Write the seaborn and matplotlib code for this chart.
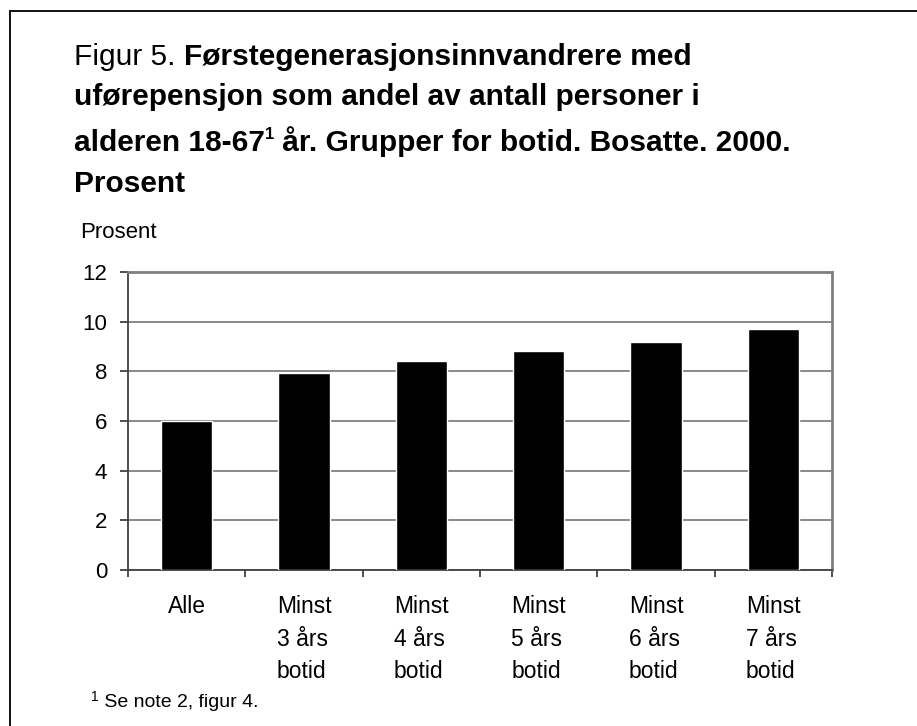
import matplotlib
matplotlib.use("Agg")
import matplotlib.pyplot as plt
import seaborn as sns
import pandas as pd
from matplotlib.lines import Line2D

# data
kategorier = ["Alle", "Minst\n3 års\nbotid", "Minst\n4 års\nbotid", "Minst\n5 års\nbotid",
              "Minst\n6 års\nbotid", "Minst\n7 års\nbotid"]
prosent = [6.0, 7.95, 8.4, 8.8, 9.2, 9.7]
y_ticks = [0, 2, 4, 6, 8, 10, 12]

sns.set_style("white")
plt.rcParams["font.family"] = ["Liberation Sans", "DejaVu Sans"]
plt.rcParams["text.color"] = "black"
plt.rcParams["xtick.color"] = "black"
plt.rcParams["ytick.color"] = "black"

W, H = 917, 726
df = pd.DataFrame({"kategori": kategorier, "prosent": prosent})

fig = plt.figure(figsize=(W / 100, H / 100), dpi=100)
ax = fig.add_axes([128 / W, (H - 570) / H, 704 / W, 298 / H])

sns.barplot(data=df, x="kategori", y="prosent", color="black", width=0.44,
            saturation=1, ax=ax, zorder=3)

ax.set_ylim(0, 12)
ax.set_xlim(-0.5, len(kategorier) - 0.5)
ax.set_yticks(y_ticks)
ax.yaxis.grid(True, color="#808080", linewidth=1.3, zorder=0)
ax.set_axisbelow(True)
ax.set_xlabel("")
ax.set_ylabel("")
for s in ["top", "right"]:
    ax.spines[s].set_color("#808080")
    ax.spines[s].set_linewidth(2)
for s in ["left", "bottom"]:
    ax.spines[s].set_color("#404040")
    ax.spines[s].set_linewidth(1.3)

ax.tick_params(axis="y", length=6, width=1.3, color="#404040", direction="out",
               labelsize=16, pad=9, left=True)
ax.tick_params(axis="x", length=0, labelsize=16.5, pad=18)
ax.set_xticks([i - 0.5 for i in range(len(kategorier) + 1)], minor=True)
ax.tick_params(axis="x", which="minor", length=5, width=1.3, color="#404040", bottom=True)
for lbl in ax.get_xticklabels():
    lbl.set_linespacing(1.53)
    lbl.set_verticalalignment("top")
    lbl.set_multialignment("left")

fig.text(80 / W, 1 - 238 / H, "Prosent", fontsize=16, va="baseline")

# title with mixed weights, drawn piece by piece
fig.canvas.draw()
renderer = fig.canvas.get_renderer()


def line(x_px, y_px, parts):
    x = x_px
    for txt, weight, size, dy in parts:
        t = fig.text(x / W, 1 - (y_px - dy) / H, txt, fontsize=size,
                     fontweight=weight, va="baseline")
        x += t.get_window_extent(renderer).width


ts = 21.5
line(74, 65, [("Figur 5. ", "normal", ts, 0),
              ("Førstegenerasjonsinnvandrere med", "bold", ts, 0)])
line(74, 105, [("uførepensjon som andel av antall personer i", "bold", ts, 0)])
line(74, 151, [("alderen 18-67", "bold", ts, 0), ("1", "bold", 12, 12),
               (" år. Grupper for botid. Bosatte. 2000.", "bold", ts, 0)])
line(74, 192, [("Prosent", "bold", ts, 0)])

line(91, 707, [("1", "normal", 10, 6), (" Se note 2, figur 4.", "normal", 14, 0)])

# frame: only left and top edges fall inside the picture
fig.lines.append(Line2D([10 / W, 10 / W], [0, 1 - 11 / H], transform=fig.transFigure,
                        color="black", linewidth=1.3))
fig.lines.append(Line2D([10 / W, 1], [1 - 11 / H, 1 - 11 / H], transform=fig.transFigure,
                        color="black", linewidth=1.3))

fig.savefig("out.png", dpi=100)
